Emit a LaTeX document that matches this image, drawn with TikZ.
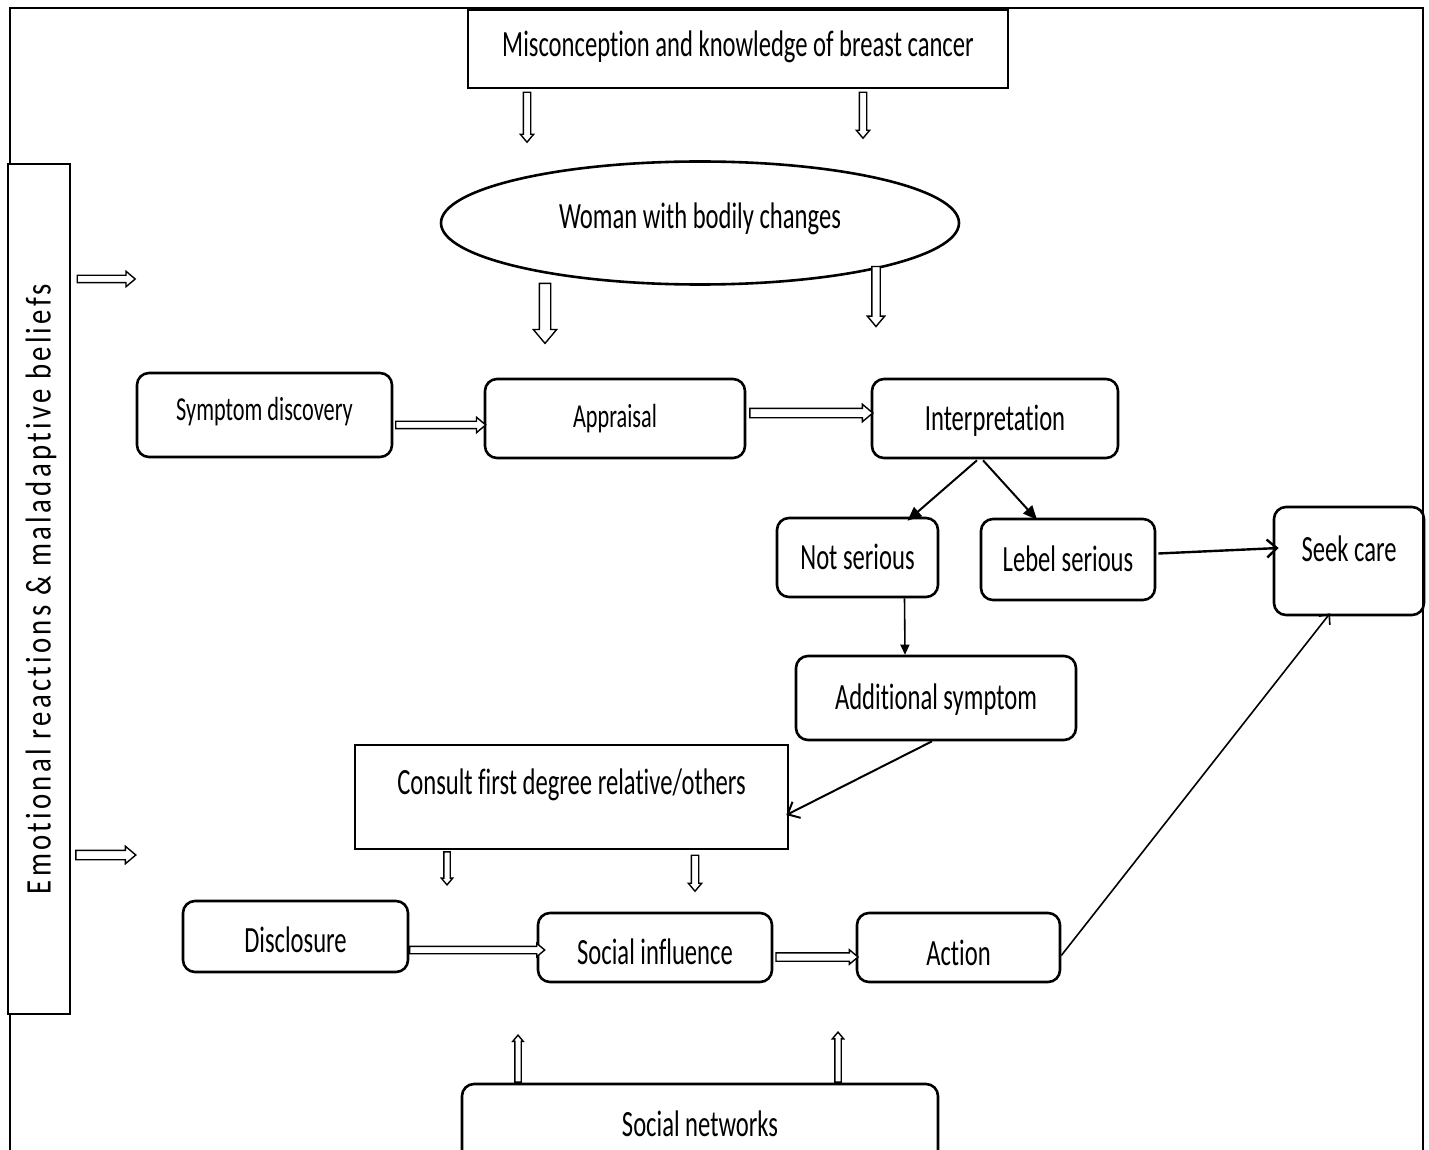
\documentclass[tikz,border=0pt]{standalone}
\usepackage{fontspec}
\setmainfont[FakeStretch=0.665, Ligatures={NoCommon,NoContextual,NoRare}, RawFeature={-liga;-calt;-dlig}]{Carlito}
\newfontfamily\sidefont[FakeStretch=0.8, LetterSpace=9, Ligatures={NoCommon,NoContextual}]{Carlito}
\usetikzlibrary{positioning,calc,shapes.geometric,shapes.arrows,arrows.meta}
\tikzstyle{line} = [draw,line width=1pt]

\begin{document}
\begin{tikzpicture}[x=0.5pt,y=-0.5pt,
                box/.style = {draw, line width=1.3pt, inner sep=0pt,
                  text height=11.9pt, text depth=0pt,
                  font=\fontsize{18.5}{22}\selectfont},
                rbox/.style = {box, rounded corners=6pt},
                small/.style = {font=\fontsize{16.75}{20}\selectfont, text height=10.8pt},
                hollow/.style = {single arrow, draw, fill=white, line width=0.7pt,
                  inner xsep=0pt, single arrow tip angle=80}]
                \useasboundingbox (0,0) rectangle (1429,1150);
                % outer frame
                \draw[line width=1.3pt] (10,1170) -- (10,8) -- (1423,8) -- (1423,1170);
                \node[box, fill=white, rotate=90, minimum width=425pt, minimum height=31pt, text height=11.6pt,
                  font=\sidefont\fontsize{18}{22}\selectfont] (beliefs) at (39,589) {Emotional reactions \& maladaptive beliefs};
                \node[box, minimum width=270pt, minimum height=39pt, text depth=4pt] (miscon) at (738,49) {Misconception and knowledge of breast cancer};
                \node[box, ellipse, minimum width=259pt, minimum height=61.5pt, text depth=6pt] (woman) at (700,223) {Woman with bodily changes};
                \node[rbox, small, minimum width=127.5pt, minimum height=42pt, text depth=5pt] (symptom) at (264.5,415) {Symptom discovery};
                \node[rbox, small, minimum width=130pt, minimum height=39.5pt, text depth=2pt] (appraisal) at (615,418.5) {Appraisal};
                \node[rbox, minimum width=123pt, minimum height=39.5pt] (interp) at (995,418.5) {Interpretation};
                \node[rbox, minimum width=80.5pt, minimum height=39.5pt] (notser) at (857.5,557.5) {Not serious};
                \node[rbox, minimum width=87pt, minimum height=40.5pt] (lebel) at (1068,559.5) {Lebel serious};
                \node[rbox, minimum width=75pt, minimum height=54pt, text depth=11pt] (seek) at (1349,561) {Seek care};
                \node[rbox, minimum width=140pt, minimum height=42pt] (addsym) at (936,698) {Additional symptom};
                \node[box, minimum width=216.5pt, minimum height=52pt, text depth=14pt] (consult) at (571.5,797) {Consult first degree relative/others};
                \node[rbox, minimum width=112.5pt, minimum height=35.5pt, text height=16.4pt] (disclosure) at (295.5,936.5) {Disclosure};
                \node[rbox, minimum width=117pt, minimum height=34.5pt, text height=17.4pt] (socinf) at (655,947.5) {Social influence};
                \node[rbox, minimum width=101.5pt, minimum height=34.5pt, text height=18.4pt] (action) at (958.5,947.5) {Action};
                \node[rbox, minimum width=238pt, minimum height=41pt] (socnet) at (700,1125) {Social networks};
                % hollow arrows
                \node[hollow, rotate=-90, minimum height=25pt, inner ysep=1.5pt, single arrow head extend=1.5pt] (arr1) at (527,115) {};
                \node[hollow, rotate=-90, minimum height=23pt, inner ysep=1.5pt, single arrow head extend=1.5pt] (arr2) at (863,113) {};
                \node[hollow, rotate=-90, minimum height=30pt, inner ysep=2.5pt, single arrow head extend=3pt] (arr3) at (545,310) {};
                \node[hollow, rotate=-90, minimum height=30pt, inner ysep=1.75pt, single arrow head extend=2.25pt] (arr4) at (876,294) {};
                \node[hollow, minimum height=29pt, inner ysep=1.5pt, single arrow head extend=2pt] (arr5) at (104,279) {};
                \node[hollow, minimum height=30pt, inner ysep=2pt, single arrow head extend=2pt] (arr6) at (103,855) {};
                \path (symptom.east) -- (appraisal.west) node[hollow, midway, yshift=-4.1pt, minimum height=45pt, inner ysep=1.5pt, single arrow head extend=2pt] (arr7) {};
                \path (appraisal.east) -- (interp.west) node[hollow, midway, yshift=2.75pt, minimum height=61.5pt, inner ysep=2pt, single arrow head extend=2pt] (arr8) {};
                \path (disclosure.east) -- (socinf.west) node[hollow, midway, yshift=-4pt, xshift=1pt, minimum height=67.5pt, inner ysep=1.5pt, single arrow head extend=1.5pt] (arr9) {};
                \path (socinf.east) -- (action.west) node[hollow, midway, yshift=-4.75pt, minimum height=41pt, inner ysep=1.75pt, single arrow head extend=1.5pt] (arr10) {};
                \node[hollow, rotate=-90, minimum height=16.5pt, inner ysep=1.25pt, single arrow head extend=1.25pt] (arr11) at (447,866.5) {};
                \node[hollow, rotate=-90, minimum height=18pt, inner ysep=1.5pt, single arrow head extend=1.5pt] (arr12) at (695,871) {};
                \node[hollow, rotate=90, minimum height=23.5pt, inner ysep=1.25pt, single arrow head extend=1pt] (arr13) at (518,1060.5) {};
                \node[hollow, rotate=90, minimum height=25pt, inner ysep=1.25pt, single arrow head extend=1.25pt] (arr14) at (838,1059) {};
                % thin arrows
                \path[line, -{Triangle[length=7pt,width=6pt]}] ($(interp.south)+(-18,1)$) -- ($(notser.north)+(50,4)$);
                \path[line, -{Triangle[length=7pt,width=6pt]}] ($(interp.south)+(-12,1)$) -- ($(lebel.north)+(-31,2)$);
                \path[line, line width=1.2pt, -{Straight Barb[length=5pt,width=9pt]}] ($(lebel.east)+(2,-6)$) -- ($(seek.west)+(6,-13)$);
                \path[line, line width=0.8pt, -{Triangle[length=5pt,width=4.5pt]}] ($(notser.south)+(47,0)$) -- ($(addsym.north)+(-31,0)$);
                \path[line, -{Straight Barb[length=5pt,width=9pt]}] ($(addsym.south)+(-4,0)$) -- ($(consult.east)+(-3,18)$);
                \path[line, line width=0.8pt, -{Straight Barb[length=4pt,width=7pt]}] ($(action.east)+(0,8)$) -- ($(seek.south)+(-19,-3)$);
            \end{tikzpicture}
\end{document}
